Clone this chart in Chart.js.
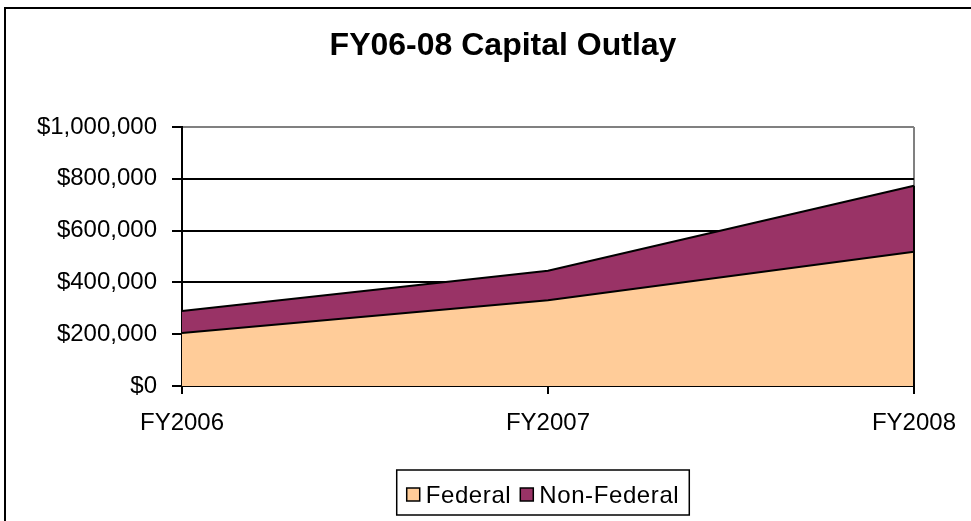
<!DOCTYPE html>
<html>
<head>
<meta charset="utf-8">
<script src="https://cdn.jsdelivr.net/npm/chart.js@4.4.1/dist/chart.umd.min.js"></script>
<style>
  html, body { margin: 0; padding: 0; background: #FFFFFF; }
  #wrap { width: 971px; height: 521px; position: relative; }
</style>
</head>
<body>
<div id="wrap"><canvas id="myChart"></canvas></div>
<script>
const years = ['FY2006', 'FY2007', 'FY2008'];
const federal = [205000, 331000, 518000];
const nonFederal = [85000, 114000, 255000];
const yTicks = [0, 200000, 400000, 600000, 800000, 1000000];
const seriesNames = ['Federal', 'Non-Federal'];
const seriesColors = ['#FFCC99', '#993366'];

const FONT = '"Liberation Sans", Arial, sans-serif';

// frame, title, legend and the closing edge of the area
const decorations = {
    id: 'decorations',
    afterDraw(chart) {
        const ctx = chart.ctx;
        const xs = chart.scales.x, ys = chart.scales.y;
        ctx.save();

        // right-hand edge of the stacked area
        const last = years.length - 1;
        const px = xs.getPixelForValue(last);
        ctx.strokeStyle = '#000000';
        ctx.lineWidth = 2;
        ctx.beginPath();
        ctx.moveTo(px, ys.getPixelForValue(0));
        ctx.lineTo(px, ys.getPixelForValue(federal[last] + nonFederal[last]));
        ctx.stroke();

        // outer frame
        ctx.lineWidth = 2;
        ctx.strokeRect(5, 8, 1000, 600);

        // title
        ctx.fillStyle = '#000000';
        ctx.font = 'bold 32px ' + FONT;
        ctx.textAlign = 'center';
        ctx.textBaseline = 'alphabetic';
        ctx.fillText('FY06-08 Capital Outlay', 503, 55);

        // legend
        ctx.font = '24px ' + FONT;
        ctx.letterSpacing = '0.6px';
        ctx.textAlign = 'left';
        const sq = 13, gapBox = 6, gapItem = 9, pad = 10;
        let total = pad * 2;
        const widths = seriesNames.map(n => ctx.measureText(n).width);
        widths.forEach((w, i) => { total += sq + gapBox + w + (i ? gapItem : 0); });
        const bx = 543 - total / 2, by = 470, bh = 45;
        ctx.lineWidth = 1.5;
        ctx.strokeRect(bx, by, total, bh);
        let x = bx + pad;
        seriesNames.forEach((n, i) => {
            if (i) x += gapItem;
            ctx.fillStyle = seriesColors[i];
            ctx.fillRect(x, 488, sq, sq);
            ctx.strokeStyle = '#000000';
            ctx.lineWidth = 1.5;
            ctx.strokeRect(x, 488, sq, sq);
            x += sq + gapBox;
            ctx.fillStyle = '#000000';
            ctx.fillText(n, x, 503);
            x += widths[i];
        });
        ctx.restore();
    }
};

const ctx = document.getElementById('myChart').getContext('2d');

new Chart(ctx, {
    type: 'line',
    data: {
        labels: years,
        datasets: [{
            label: seriesNames[0],
            data: federal,
            backgroundColor: seriesColors[0],
            borderColor: '#000000',
            borderWidth: 2,
            fill: 'origin',
            pointRadius: 0,
            tension: 0
        }, {
            label: seriesNames[1],
            data: nonFederal,
            backgroundColor: seriesColors[1],
            borderColor: '#000000',
            borderWidth: 2,
            fill: '-1',
            pointRadius: 0,
            tension: 0
        }]
    },
    options: {
        responsive: true,
        maintainAspectRatio: false,
        animation: false,
        layout: {
            padding: { left: 0, right: 56, top: 127, bottom: 75 }
        },
        scales: {
            x: {
                offset: false,
                afterFit: function(scale) { scale.height = 60; },
                grid: {
                    color: function(c) { return c.index === years.length - 1 ? '#808080' : 'rgba(0,0,0,0)'; },
                    tickColor: '#000000',
                    lineWidth: 2,
                    tickLength: 8
                },
                border: { color: '#000000', width: 2 },
                ticks: {
                    color: '#000000',
                    padding: 15,
                    maxRotation: 0,
                    autoSkip: false,
                    font: { family: FONT, size: 24 }
                }
            },
            y: {
                stacked: true,
                min: yTicks[0],
                max: yTicks[yTicks.length - 1],
                afterFit: function(scale) { scale.width = 182; },
                afterBuildTicks: function(scale) { scale.ticks = yTicks.map(v => ({ value: v })); },
                grid: {
                    color: function(c) { return c.tick && c.tick.value === yTicks[yTicks.length - 1] ? '#808080' : '#000000'; },
                    tickColor: '#000000',
                    lineWidth: 2,
                    tickLength: 10
                },
                border: { color: '#000000', width: 2 },
                ticks: {
                    color: '#000000',
                    padding: 15,
                    font: { family: FONT, size: 24 },
                    callback: function(v) { return '$' + Number(v).toLocaleString('en-US'); }
                }
            }
        },
        plugins: {
            legend: { display: false },
            title: { display: false },
            tooltip: { enabled: false }
        }
    },
    plugins: [decorations]
});
</script>
</body>
</html>
